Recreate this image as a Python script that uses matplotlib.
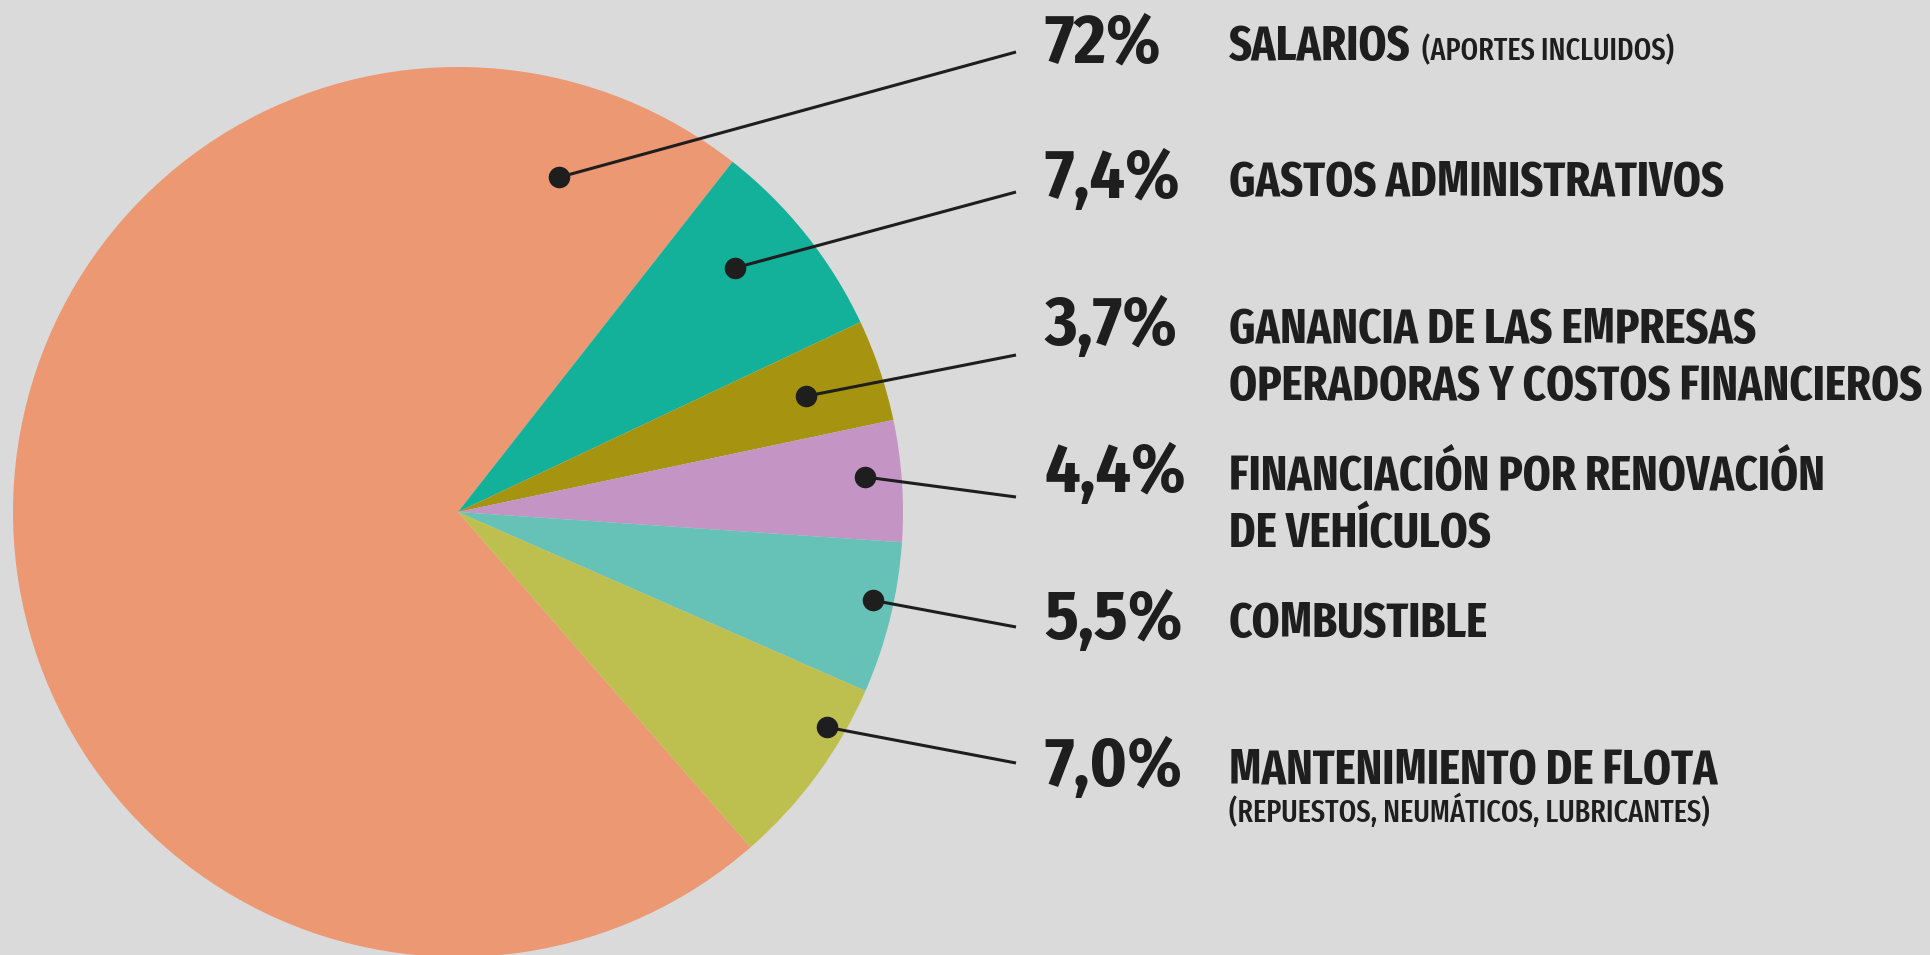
import matplotlib
matplotlib.use('Agg')
import matplotlib.pyplot as plt
import numpy as np

# data
categories = ['SALARIOS', 'GASTOS ADMINISTRATIVOS',
              'GANANCIA DE LAS EMPRESAS\nOPERADORAS Y COSTOS FINANCIEROS',
              'FINANCIACIÓN POR RENOVACIÓN\nDE VEHÍCULOS',
              'COMBUSTIBLE', 'MANTENIMIENTO DE FLOTA']
notes = ['(APORTES INCLUIDOS)', '', '', '', '', '(REPUESTOS, NEUMÁTICOS, LUBRICANTES)']
shares = [72.0, 7.4, 3.7, 4.4, 5.5, 7.0]
share_labels = ['72%', '7,4%', '3,7%', '4,4%', '5,5%', '7,0%']

colors = ['#EC9872', '#13B09A', '#A69310', '#C494C4', '#66C2B6', '#BDC04E']

# layout (pixels, y up)
W, H = 1930, 955
cx, cy, R = 458, 443, 445
dot_frac = [0.082, 0.605, 0.485, 0.557, 0.59, 0.74]   # where the dot sits inside its wedge
dot_rad = [0.786, 0.83, 0.825, 0.918, 0.953, 0.96]
line_x = 1016
line_y = [903, 763, 600, 458, 328, 192]
pct_x, lab_x = 1044, 1229
base_y = [895, 759, 612, 465, 318, 171]

font = 'Fira Sans Extra Condensed'
pct_font = 'Fira Sans Condensed'
txt = '#1E1E1E'
bg = '#DADADA'

fig = plt.figure(figsize=(W / 100, H / 100), dpi=100, facecolor=bg)
ax = fig.add_axes([0, 0, 1, 1])

wedges, _ = ax.pie(shares, colors=colors, startangle=311.1, counterclock=False,
                   center=(cx, cy), radius=R, frame=True,
                   wedgeprops=dict(linewidth=0))
ax.set_xlim(0, W)
ax.set_ylim(0, H)
ax.set_aspect('equal')
ax.axis('off')

fig.canvas.draw()
rend = fig.canvas.get_renderer()

for i, w in enumerate(wedges):
    a = np.deg2rad(w.theta1 + dot_frac[i] * (w.theta2 - w.theta1))
    dx = cx + dot_rad[i] * R * np.cos(a)
    dy = cy + dot_rad[i] * R * np.sin(a)
    ax.plot([dx, line_x], [dy, line_y[i]], color=txt, lw=2.2, solid_capstyle='butt', zorder=3)
    ax.plot(dx, dy, 'o', ms=14.5, color=txt, zorder=4)

    ax.text(pct_x, base_y[i] - 2, share_labels[i], family=pct_font, weight='bold',
            fontsize=50, color=txt, va='baseline', ha='left')

    lines = categories[i].split('\n')
    y = base_y[i]
    for k, line in enumerate(lines):
        t = ax.text(lab_x, y, line, family=font, weight='bold', fontsize=35,
                    color=txt, va='baseline', ha='left')
        if k < len(lines) - 1:
            y -= 57

    if notes[i]:
        if len(lines) == 1 and i == 0:
            bb = t.get_window_extent(rend)
            ax.text(bb.x1 + 11, y, notes[i], family=font, weight='medium',
                    fontsize=22, color=txt, va='baseline', ha='left')
        else:
            ax.text(lab_x, y - 38, notes[i], family=font, weight='medium',
                    fontsize=22, color=txt, va='baseline', ha='left')

fig.savefig('out.png', dpi=100, facecolor=bg)
